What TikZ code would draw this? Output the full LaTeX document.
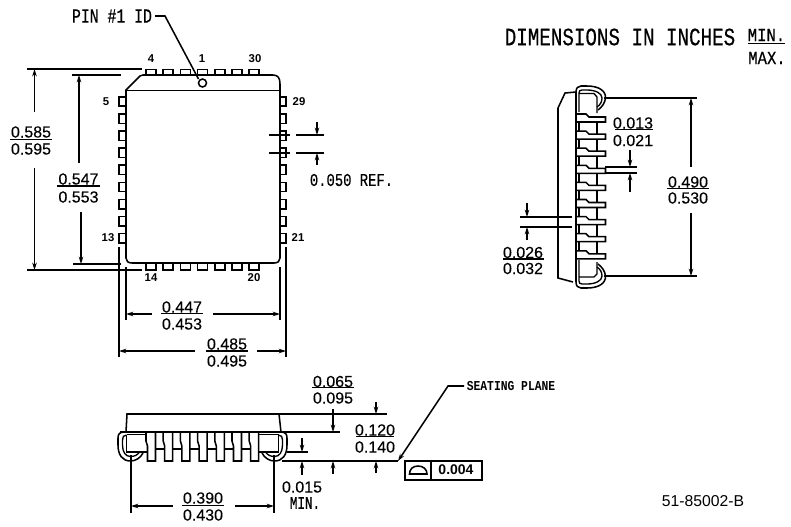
\documentclass[tikz,border=0pt]{standalone}
\usepackage{fontspec}
\setmainfont{Liberation Sans}
\newfontfamily\valfont[FakeBold=0.2]{Liberation Sans}
\newfontfamily\cadmono[FakeBold=0.5]{Liberation Mono}
\newfontfamily\cadbold{Liberation Mono Bold}
\usetikzlibrary{arrows.meta}
\newcommand{\cad}[3]{\scalebox{1}[#2]{\fontsize{#1}{#1}\cadmono #3}}
\newcommand{\cadb}[3]{\scalebox{1}[#2]{\fontsize{#1}{#1}\cadbold #3}}
\tikzset{
  dwg/.style={line width=1.15pt,line cap=butt,line join=miter},
  thin part/.style={line width=1pt},
  dim/.style={line width=1.15pt,-{Stealth[length=5.5pt,width=3.4pt]}},
  val/.style={inner sep=0pt,font=\fontsize{12}{12}\valfont},
  pinno/.style={inner sep=0pt,font=\fontsize{8.5}{8.5}\selectfont\bfseries},
  bar/.style={line width=1pt}
}
\begin{document}
\begin{tikzpicture}[x=0.75pt,y=-0.75pt,dwg]
\useasboundingbox (0,0) rectangle (791,526);
% ---------- top view ----------
\draw (126,90) -- (140,76) -- (143,75) -- (273,75) .. controls (278,75) and (280,78) .. (280,84) -- (280,258) .. controls (280,261) and (278,263) .. (274,263) -- (132,263) .. controls (128,263) and (126,261) .. (126,258) -- cycle;
\draw (126,90.5) -- (280,90.5);
\foreach \c in {151,168.2,185.4,202.6,219.8,237,254.2}{
  \draw (\c-5,75) -- (\c-5,69.5) -- (\c+5,69.5) -- (\c+5,75);
  \draw (\c-5,263) -- (\c-5,270) -- (\c+5,270) -- (\c+5,263);
}
\foreach \c in {101.5,118.6,135.7,152.8,169.9,187,204.1,221.2,238.3}{
  \draw (126,\c-4.7) -- (119,\c-4.7) -- (119,\c+4.7) -- (126,\c+4.7);
  \draw (280,\c-4.7) -- (286,\c-4.7) -- (286,\c+4.7) -- (280,\c+4.7);
}
\draw (202.5,83) circle (4);
\node[inner sep=0pt] (pinid) at (112,16) {\cad{11.1}{1.35}{PIN \#1 ID}};
\draw (155,16) -- (165,16) -- (198.5,79);
\node[pinno] (p4) at (151,59) {4};
\node[pinno] (p1) at (202,59) {1};
\node[pinno] (p30) at (255,59) {30};
\node[pinno] (p5) at (106,102) {5};
\node[pinno] (p29) at (299,102) {29};
\node[pinno] (p13) at (108,238) {13};
\node[pinno] (p21) at (298,238) {21};
\node[pinno] (p14) at (151,278) {14};
\node[pinno] (p20) at (254,278) {20};
% 0.585 / 0.595
\draw (27,69) -- (142,69);
\draw (27,270) -- (142,270);
\draw[dim] (34.5,112) -- (34.5,69);
\draw[dim] (34.5,168) -- (34.5,270);
\node[val] (a1) at (31,132) {0.585};
\draw[bar] (10,139.5) -- (52,139.5);
\node[val] (a2) at (31,149) {0.595};
% 0.547 / 0.553
\draw (72,75) -- (121,75);
\draw (73,264) -- (121,264);
\draw[dim] (79,163) -- (79,75);
\draw[dim] (81,212) -- (81,264);
\node[val] (b1) at (78.500,179) {0.547};
\draw[bar] (57,186) -- (100,186);
\node[val] (b2) at (78.500,197) {0.553};
% 0.050 REF
\draw (269,135) -- (290,135);
\draw (296,135) -- (324,135);
\draw (269,153) -- (290,153);
\draw (296,153) -- (324,153);
\draw[dim] (317,122) -- (317,135);
\draw[dim] (317,165) -- (317,153);
\node[inner sep=0pt] (ref) at (351.500,180) {\cad{10.4}{1.3}{0.050 REF.}};
% 0.447 / 0.453
\draw (119,247) -- (119,357);
\draw (286,247) -- (286,357);
\draw (126,267) -- (126,320);
\draw (280,267) -- (280,320);
\draw[dim] (152,314) -- (126,314);
\draw[dim] (213,314) -- (280,314);
\node[val] (c1) at (182,307) {0.447};
\draw[bar] (161,313.500) -- (203,313.500);
\node[val] (c2) at (182,324) {0.453};
% 0.485 / 0.495
\draw[dim] (195,351) -- (119,351);
\draw[dim] (257,351) -- (286,351);
\node[val] (d1) at (227,344) {0.485};
\draw[bar] (206,351) -- (248,351);
\node[val] (d2) at (227,361) {0.495};
% ---------- header ----------
\node[inner sep=0pt] (hdr) at (620,37) {\cad{14.4}{1.3}{DIMENSIONS IN INCHES}};
\node[inner sep=0pt] (hmin) at (766.500,35) {\cad{11.7}{1.2}{MIN.}};
\draw[bar] (748,43.500) -- (785,43.500);
\node[inner sep=0pt] (hmax) at (767,58) {\cad{11.7}{1.2}{MAX.}};
% ---------- side view ----------
\draw (576,92) -- (565,93) -- (558,108) -- (558,278) -- (573,282);
\draw (576,92) -- (576,282);
% lead ends
\draw (576,92) .. controls (576,88) and (578,86) .. (581,86) -- (587,86) .. controls (599,86) and (606,91) .. (605.5,98) .. controls (605,103) and (602,107) .. (598,110);
\draw[thin part] (579,112) -- (579,93) .. controls (579,91) and (580,90) .. (582,90) -- (587,90) .. controls (595,90) and (602,93) .. (602,98) .. controls (602,102) and (600,105) .. (597,107);
\draw[thin part] (579,93.500) -- (594,93.500) -- (597,97) -- (597,113);
\draw (576,282) .. controls (576,286) and (578,288) .. (581,288) -- (587,288) .. controls (599,288) and (606,283) .. (605.5,276) .. controls (605,271) and (602,267) .. (598,264);
\draw[thin part] (579,260) -- (579,281) .. controls (579,283) and (580,284) .. (582,284) -- (587,284) .. controls (595,284) and (602,281) .. (602,276) .. controls (602,272) and (600,269) .. (597,267);
\draw[thin part] (579,277) -- (594,277) -- (597,274) -- (597,262);
\foreach \c in {119.5,136.6,153.7,170.8,187.9,205,222.1,239.2,256.3}{
  \draw (577,\c-5.500) -- (586,\c-5.500) -- (589,\c-2.500) -- (605.5,\c-2.500) -- (605.5,\c+2.500) -- (577,\c+2.500);
}
\foreach \c in {119.5,136.6,153.7,170.8,187.9,205,222.1,239.2}{
  \draw (597,\c+2.500) -- (597,\c+14.6);
  \draw (579,\c+2.500) -- (579,\c+11.6);
}
% 0.490 / 0.530
\draw (604,98) -- (697,98);
\draw (604,276) -- (697,276);
\draw[dim] (691,167) -- (691,98);
\draw[dim] (691,213) -- (691,276);
\node[val] (e1) at (688,182) {0.490};
\draw[bar] (667,188.500) -- (709,188.500);
\node[val] (e2) at (688,198) {0.530};
% 0.013 / 0.021
\draw (605,167) -- (637,167);
\draw (605,173) -- (637,173);
\draw[dim] (630,150) -- (630,167);
\draw[dim] (630,192) -- (630,173);
\node[val] (f1) at (633,123) {0.013};
\draw[bar] (615,129.500) -- (653,129.500);
\node[val] (f2) at (633,140.500) {0.021};
% 0.026 / 0.032
\draw (520,217) -- (572,217);
\draw (520,227) -- (572,227);
\draw[dim] (527,203) -- (527,217);
\draw[dim] (527,240) -- (527,227);
\node[val] (g1) at (523,252.500) {0.026};
\draw[bar] (503,259) -- (544,259);
\node[val] (g2) at (523,268.500) {0.032};
% ---------- bottom view ----------
\draw (126,432) -- (127,414) -- (279,414) -- (281,432);
\draw (120,432) -- (285,432);
\draw (279,414) -- (387,414);
\draw (285,432) -- (340,432);
\draw (287,452) -- (308,452);
\draw (282,461) -- (398,461);
\foreach \c in {151,168.2,185.4,202.6,219.8,237,254.2}{
  \draw (\c-5,432) -- (\c-5,441) -- (\c-3.500,446) -- (\c-3.500,461) -- (\c+4.500,461) -- (\c+4.500,432);
}
\foreach \c in {155.5,172.7,189.9,207.1,224.3,241.5}{
  \draw (\c,449) -- (\c+9.2,449);
}
\foreach \s/\o in {1/202.5,-1/202.5}{
\begin{scope}[shift={(\o,0)},xscale=\s]
  \draw (-78,432) .. controls (-83,432) and (-84.500,434) .. (-84.500,438) -- (-84.500,445) .. controls (-84.500,455) and (-80,461) .. (-72,461) .. controls (-67,461) and (-62,458) .. (-59.500,453);
  \draw[thin part] (-76,435) .. controls (-79,435) and (-80,437) .. (-80,440) -- (-80,445) .. controls (-80,452) and (-77,456.500) .. (-72,456.500) .. controls (-68,456.500) and (-65,455) .. (-63,452);
  \draw[thin part] (-76,434.500) -- (-56,434.500);
  \draw[thin part] (-76,434.500) -- (-76,452) -- (-56,452);
\end{scope}}
% 0.390 / 0.430
\draw (131,455) -- (131,513);
\draw (274,455) -- (274,513);
\draw[dim] (172.500,506) -- (131,506);
\draw[dim] (235,506) -- (274,506);
\node[val] (h1) at (203,498) {0.390};
\draw[bar] (182,505.500) -- (224,505.500);
\node[val] (h2) at (203,515) {0.430};
% 0.015 MIN
\draw[dim] (302,438) -- (302,452);
\draw[dim] (302,475) -- (302,461);
\node[val] (i1) at (302,487) {0.015};
\node[inner sep=0pt] (i2) at (305,503) {\cad{9.4}{1.4}{MIN.}};
% 0.065 / 0.095
\draw[dim] (333,409) -- (333,432);
\draw[dim] (333,474) -- (333,461);
\node[val] (j1) at (333,381.500) {0.065};
\draw[bar] (312,387.500) -- (354,387.500);
\node[val] (j2) at (333,398) {0.095};
% 0.120 / 0.140
\draw[dim] (376,402) -- (376,414);
\draw[dim] (376,473) -- (376,461);
\node[val] (k1) at (375,430) {0.120};
\draw[bar] (356,436.500) -- (394,436.500);
\node[val] (k2) at (375,447) {0.140};
% seating plane
\node[inner sep=0pt] (sp) at (511,386) {\cadb{8.5}{1.2}{SEATING PLANE}};
\draw[{Stealth[length=5.5pt,width=3.4pt]}-] (398,461) -- (448,386) -- (464,386);
\draw (405,461) rectangle (482,480);
\draw (431,461) -- (431,480);
\draw (409.500,474) -- (427,474) .. controls (427,469) and (423,466) .. (418,466) .. controls (413,466) and (409.500,469) .. (409.500,474) -- cycle;
\node[inner sep=0pt,font=\fontsize{10.500}{10.500}\selectfont\bfseries] (tol) at (456,470) {0.004};
\node[inner sep=0pt,font=\fontsize{11.800}{11.800}\selectfont] (ref2) at (703,501) {51-85002-B};
\end{tikzpicture}
\end{document}
